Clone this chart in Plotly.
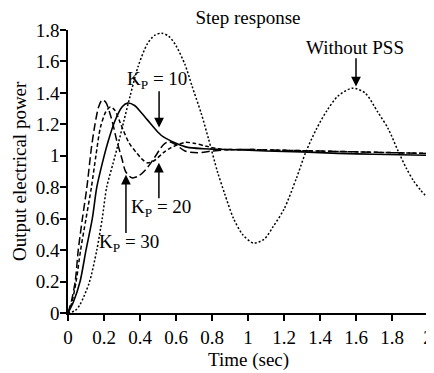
import plotly.graph_objects as go

# ---- data ----
t_kp10 = [0, 0.03, 0.067, 0.10, 0.135, 0.16, 0.19, 0.22, 0.26, 0.30, 0.33, 0.37, 0.41, 0.44,
          0.50, 0.53, 0.60, 0.66, 0.75, 0.9, 1.1, 1.3, 1.5, 1.7, 2.0]
y_kp10 = [0, 0.07, 0.2, 0.4, 0.6, 0.8, 0.95, 1.08, 1.22, 1.31, 1.335, 1.32, 1.27, 1.23,
          1.15, 1.12, 1.08, 1.055, 1.045, 1.04, 1.03, 1.025, 1.015, 1.01, 1.003]

t_kp20 = [0, 0.02, 0.045, 0.07, 0.10, 0.13, 0.155, 0.18, 0.21, 0.235, 0.26, 0.29, 0.34, 0.38,
          0.41, 0.44, 0.48, 0.53, 0.57, 0.61, 0.65, 0.70, 0.77, 0.86, 1.0, 1.2, 1.4, 1.6, 1.8, 2.0]
y_kp20 = [0, 0.06, 0.2, 0.4, 0.6, 0.8, 1.0, 1.18, 1.28, 1.31, 1.29, 1.21, 1.08, 1.02,
          0.98, 0.955, 0.97, 1.02, 1.05, 1.07, 1.085, 1.08, 1.06, 1.04, 1.04, 1.035, 1.03, 1.025, 1.02, 1.015]

t_kp30 = [0, 0.02, 0.04, 0.057, 0.08, 0.105, 0.13, 0.15, 0.17, 0.19, 0.21, 0.23, 0.25, 0.27,
          0.30, 0.32, 0.355, 0.39, 0.43, 0.47, 0.53, 0.56, 0.60, 0.65, 0.72, 0.80, 0.9, 1.0,
          1.2, 1.4, 1.6, 1.8, 2.0]
y_kp30 = [0, 0.08, 0.2, 0.4, 0.6, 0.8, 1.05, 1.2, 1.31, 1.355, 1.34, 1.28, 1.2, 1.1,
          0.98, 0.9, 0.86, 0.87, 0.91, 0.97, 1.07, 1.09, 1.07, 1.03, 1.02, 1.03, 1.04, 1.04,
          1.035, 1.03, 1.025, 1.02, 1.015]

t_nopss = [0, 0.04, 0.065, 0.09, 0.12, 0.16, 0.19, 0.215, 0.25, 0.28, 0.31, 0.345, 0.39, 0.44,
           0.48, 0.52, 0.56, 0.60, 0.65, 0.69, 0.74, 0.78, 0.83, 0.87, 0.92, 0.97, 1.03, 1.09,
           1.14, 1.20, 1.27, 1.32, 1.38, 1.44, 1.50, 1.58, 1.65, 1.72, 1.78, 1.83, 1.88, 1.92,
           1.96, 2.0]
y_nopss = [0, 0.015, 0.05, 0.11, 0.2, 0.4, 0.6, 0.8, 0.95, 1.08, 1.22, 1.38, 1.57, 1.71,
           1.765, 1.78, 1.76, 1.70, 1.58, 1.44, 1.27, 1.11, 0.90, 0.76, 0.60, 0.50, 0.445, 0.47,
           0.55, 0.66, 0.86, 1.02, 1.17, 1.29, 1.38, 1.43, 1.40, 1.28, 1.17, 1.04, 0.92, 0.84,
           0.78, 0.73]

x_ticks = [0, 0.2, 0.4, 0.6, 0.8, 1.0, 1.2, 1.4, 1.6, 1.8, 2.0]
x_ticktext = ["0", "0.2", "0.4", "0.6", "0.8", "1", "1.2", "1.4", "1.6", "1.8", "2"]
y_ticks = [0, 0.2, 0.4, 0.6, 0.8, 1.0, 1.2, 1.4, 1.6, 1.8]
y_ticktext = ["0", "0.2", "0.4", "0.6", "0.8", "1", "1.2", "1.4", "1.6", "1.8"]

FONT = "Liberation Serif, Times New Roman, serif"
FS = 19

# page body has an 8px default margin, so the figure is sized to fit the window
W, H = 426, 365
OFF = 8

fig = go.Figure()
fig.add_trace(go.Scatter(x=t_nopss, y=y_nopss, mode="lines", name="Without PSS",
                         line=dict(color="black", width=1.5, dash="2px,2px", shape="spline", smoothing=0.8)))
fig.add_trace(go.Scatter(x=t_kp20, y=y_kp20, mode="lines", name="Kp=20",
                         line=dict(color="black", width=1.5, dash="4px,2.5px", shape="spline", smoothing=0.8)))
fig.add_trace(go.Scatter(x=t_kp30, y=y_kp30, mode="lines", name="Kp=30",
                         line=dict(color="black", width=1.5, dash="8px,3.5px", shape="spline", smoothing=0.8)))
fig.add_trace(go.Scatter(x=t_kp10, y=y_kp10, mode="lines", name="Kp=10",
                         line=dict(color="black", width=1.6, shape="spline", smoothing=0.8)))

def arrow(x, y_tip, y_tail):
    fig.add_annotation(x=x, y=y_tip, ax=x, ay=y_tail, axref="x", ayref="y", xref="x", yref="y",
                       text="", showarrow=True, arrowhead=2, arrowsize=1.3, arrowwidth=1.5,
                       arrowcolor="black", standoff=0, startstandoff=0)

def label(x, y, txt):
    fig.add_annotation(x=x, y=y, xref="x", yref="y", text=txt, showarrow=False,
                       font=dict(family=FONT, size=FS, color="black"))

label(0.494, 1.48, "K<sub>P</sub> = 10")
arrow(0.506, 1.18, 1.42)
label(1.594, 1.69, "Without PSS")
arrow(1.60, 1.44, 1.63)
label(0.517, 0.67, "K<sub>P</sub> = 20")
arrow(0.505, 0.955, 0.72)
label(0.34, 0.445, "K<sub>P</sub> = 30")
arrow(0.322, 0.88, 0.50)

# axis titles as paper-anchored annotations
fig.add_annotation(x=0.5, y=-(360 - 313) / 283, xref="paper", yref="paper", text="Time (sec)",
                   showarrow=False, xanchor="center", yanchor="middle",
                   font=dict(family=FONT, size=FS, color="black"))
fig.add_annotation(x=(19 - 68) / 360, y=(313 - 171) / 283, xref="paper", yref="paper",
                   text="Output electrical power", textangle=-90, showarrow=False,
                   xanchor="center", yanchor="middle",
                   font=dict(family=FONT, size=FS, color="black"))

axis_common = dict(showline=True, linecolor="black", linewidth=1.5, ticks="outside",
                   ticklen=6, tickwidth=1.5, tickcolor="black", showgrid=False, zeroline=False,
                   automargin=False, ticklabeloverflow="allow",
                   tickfont=dict(family=FONT, size=FS, color="black"))

fig.update_layout(
    width=W, height=H,
    margin=dict(l=68 - OFF, r=434 - 428, t=30 - OFF, b=373 - 313),
    paper_bgcolor="white", plot_bgcolor="white",
    showlegend=False,
    font=dict(family=FONT, size=FS, color="black"),
    title=dict(text="Step response", x=(248 - OFF) / W, xanchor="center", y=1 - (17 - OFF) / H,
               yanchor="middle", yref="container", font=dict(family=FONT, size=FS, color="black")),
    xaxis=dict(range=[0, 2], tickvals=x_ticks, ticktext=x_ticktext, **axis_common),
    yaxis=dict(range=[0, 1.8], tickvals=y_ticks, ticktext=y_ticktext, ticklabelstandoff=-3,
               **axis_common),
)

fig.write_html("out.html")
